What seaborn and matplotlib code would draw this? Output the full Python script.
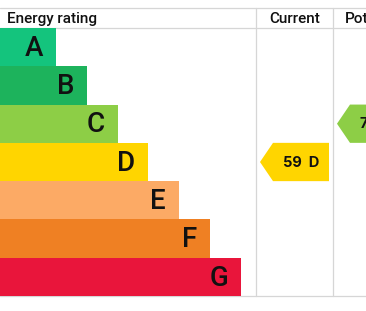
import matplotlib
matplotlib.use("Agg")
import matplotlib.pyplot as plt
from matplotlib.patches import Polygon
import seaborn as sns
import pandas as pd

bands = ["A", "B", "C", "D", "E", "F", "G"]
bar_lengths = [56, 87, 118, 148, 179, 210, 241]
band_colors = ["#14c47d", "#1db35c", "#8dce46", "#ffd500", "#fcaa65", "#ef8023", "#e9153b"]
header_labels = ["Energy rating", "Current", "Potential"]
current_score = 59
current_band = "D"
potential_score = 78
potential_band = "C"

W, H = 366, 311
sns.set_theme(style="white")
plt.rcParams["font.family"] = ["Roboto", "DejaVu Sans"]

fig = plt.figure(figsize=(W / 100, H / 100), dpi=100)

bg = fig.add_axes([0, 0, 1, 1])
bg.set_xlim(0, W)
bg.set_ylim(H, 0)
bg.axis("off")

top_y, head_y, bot_y = 8, 27.5, 296
col1, col2 = 256, 333
grid_c = "#d6d6d6"
for yy in (top_y, head_y, bot_y):
    bg.plot([0, W], [yy, yy], color=grid_c, lw=0.9, zorder=1)
for xx in (col1, col2):
    bg.plot([xx, xx], [top_y, bot_y], color=grid_c, lw=0.9, zorder=1)

hy = 19.3
hfs = 11
bg.text(7, hy, header_labels[0], ha="left", va="center", fontsize=hfs, fontweight="medium", color="#111")
bg.text((col1 + col2) / 2 + 0.5, hy, header_labels[1], ha="center", va="center", fontsize=hfs, fontweight="medium", color="#111")
bg.text(344.5, hy, header_labels[2], ha="left", va="center", fontsize=hfs, fontweight="medium", color="#111")

bar_top, bar_bot = 28, 296
ax = fig.add_axes([0, (H - bar_bot) / H, 1, (bar_bot - bar_top) / H])
df = pd.DataFrame({"band": bands, "length": bar_lengths})
sns.barplot(data=df, x="length", y="band", hue="band", palette=band_colors,
            orient="h", width=1.0, saturation=1, legend=False, ax=ax,
            linewidth=0, edgecolor="none")
ax.set_xlim(0, W)
ax.set_ylim(len(bands) - 0.5, -0.5)
ax.axis("off")
ax.patch.set_alpha(0)
for i, (b, L) in enumerate(zip(bands, bar_lengths)):
    ax.text(L - 13, i + 0.03, b, ha="right", va="center", fontsize=20,
            fontweight="medium", color="#111")

def arrow(ax, x_tip, i, body_len, color, label):
    half = 0.5
    tip_len = 13
    pts = [(x_tip, i), (x_tip + tip_len, i - half), (x_tip + body_len, i - half),
           (x_tip + body_len, i + half), (x_tip + tip_len, i + half)]
    ax.add_patch(Polygon(pts, closed=True, facecolor=color, edgecolor="none", zorder=3))
    ax.text(x_tip + tip_len + (body_len - tip_len) / 2, i + 0.02, label, ha="center",
            va="center", fontsize=10.5, fontweight="bold", color="#111", zorder=4,
            family=["Inter", "Roboto", "DejaVu Sans"])

ci = bands.index(current_band)
pi = bands.index(potential_band)
arrow(ax, 260, ci, 69, band_colors[ci], f"{current_score}  {current_band}")
arrow(ax, 337, pi, 69, band_colors[pi], f"{potential_score}  {potential_band}")

fig.savefig("out.png", dpi=100)
